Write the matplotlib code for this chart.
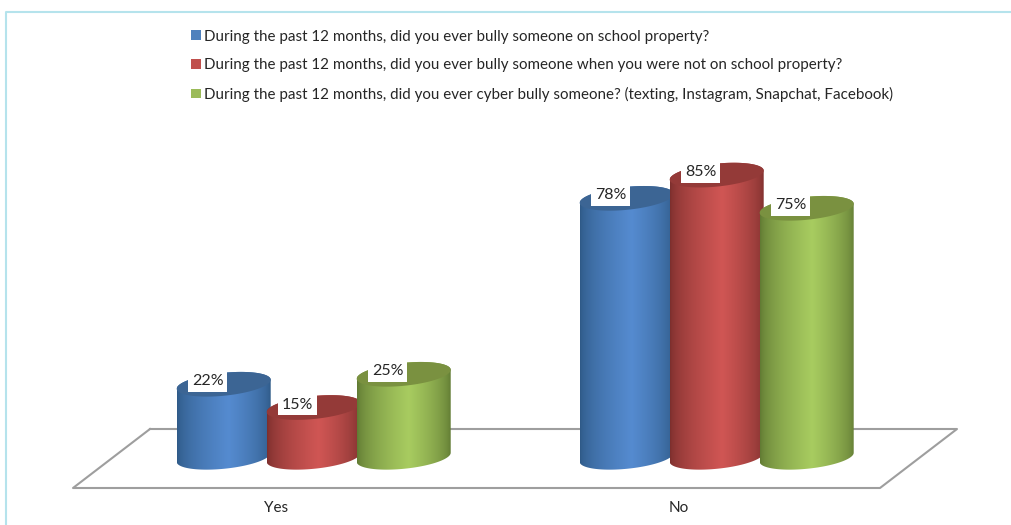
import numpy as np
import matplotlib.pyplot as plt
from matplotlib.colors import to_rgb
from matplotlib.patches import PathPatch, Patch
from matplotlib.path import Path

plt.rcParams['font.family'] = ['Lato', 'DejaVu Sans']

# Datos
categories = ['Yes', 'No']
series_names = ['During the past 12 months, did you ever bully someone on school property?',
                'During the past 12 months, did you ever bully someone when you were not on school property?',
                'During the past 12 months, did you ever cyber bully someone? (texting, Instagram, Snapchat, Facebook)']
bully_school = [22, 78]
bully_outside = [15, 85]
bully_cyber = [25, 75]

main_colors = ['#4F81BD', '#C0504D', '#9BBB59']
bright_colors = ['#558BD0', '#D05654', '#A8CC60']
edge_colors = ['#2E5986', '#7A2E2C', '#5F7832']
top_colors = ['#3C6594', '#943A38', '#7A9140']

W, H = 1012, 525
fig = plt.figure(figsize=(W / 100, H / 100), dpi=100)

# Capa de fondo en pixeles: marco y plano del suelo
bg = fig.add_axes([0, 0, 1, 1])
bg.set_xlim(0, W)
bg.set_ylim(H, 0)
bg.axis('off')
bg.plot([6.5, 6.5, W], [H, 12, 12], color='#B5E3EC', linewidth=1.5)
bg.plot([150, 957, 880, 73, 150], [429, 429, 488, 488, 429], color='#9E9E9E', linewidth=1.5)

# Ejes de datos: x en categorias, y en porcentaje
px_per_cat = 403
px_per_pct = 3.32
x0_px = 313.7
y0_px = 457.3
ax = fig.add_axes([0, 0, 1, 1], facecolor='none')
ax.axis('off')

bar_w = 94 / px_per_cat
step = 90 / px_per_cat
ry = 11.5 / px_per_pct
tilt = 4.5 / px_per_pct


def ellipse_pts(cx, cy, t):
    return cx + bar_w / 2 * np.cos(t), cy + ry * np.sin(t) + tilt * np.cos(t)


def draw_cylinder(cx, value, i, z):
    # Cuerpo: arco inferior de la base y arco trasero de la tapa (queda tapado)
    xb, yb = ellipse_pts(cx, 0, np.linspace(np.pi, 2 * np.pi, 60))
    xt, yt = ellipse_pts(cx, value, np.linspace(0, np.pi, 60))
    verts = np.column_stack([np.r_[xb, xt], np.r_[yb, yt]])
    body = PathPatch(Path(np.vstack([verts, verts[0]]), closed=True), transform=ax.transData,
                     facecolor='none', edgecolor='none')
    ax.add_patch(body)
    c_edge = np.array(to_rgb(edge_colors[i]))
    c_bright = np.array(to_rgb(bright_colors[i]))
    s = np.linspace(0, 1, 200)
    k = np.where(s < 0.55, s / 0.55, (1 - s) / 0.45) ** 0.6
    grad = (c_edge[None, :] * (1 - k[:, None]) + c_bright[None, :] * k[:, None])[None, :, :]
    im = ax.imshow(grad, extent=[cx - bar_w / 2, cx + bar_w / 2, yb.min() - 1, yt.max() + 1],
                   aspect='auto', zorder=z, interpolation='bilinear')
    im.set_clip_path(body)
    # Tapa
    t = np.linspace(0, 2 * np.pi, 120)
    ex, ey = ellipse_pts(cx, value, t)
    ax.fill(ex, ey, color=top_colors[i], linewidth=0, zorder=z + 0.1)


series = [bully_school, bully_outside, bully_cyber]
for c in range(len(categories)):
    for i, vals in enumerate(series):
        cx = c + (i - 1) * step
        draw_cylinder(cx, vals[c], i, 3 + i)
        ax.text(cx - 16 / px_per_cat, vals[c] + 0.9, f'{vals[c]}%', ha='center', va='center',
                fontsize=11.5, color='#262626', zorder=10,
                bbox=dict(facecolor='white', edgecolor='none', pad=2.5))
    ax.text(c - 38 / px_per_cat, -15.4, categories[c], ha='center', va='center',
            fontsize=11, color='#262626')

ax.set_xlim(-x0_px / px_per_cat, (W - x0_px) / px_per_cat)
ax.set_ylim((y0_px - H) / px_per_pct, y0_px / px_per_pct)

handles = [Patch(facecolor=main_colors[i], label=series_names[i]) for i in range(3)]
fig.legend(handles=handles, loc='upper left', bbox_to_anchor=(191.5 / W, 1 - 29.5 / H),
           frameon=False, fontsize=10.92, labelcolor='#262626', handlelength=0.6, handleheight=0.6,
           handletextpad=0.23, labelspacing=0.97, borderpad=0, borderaxespad=0)

fig.savefig('out.png', dpi=100)
